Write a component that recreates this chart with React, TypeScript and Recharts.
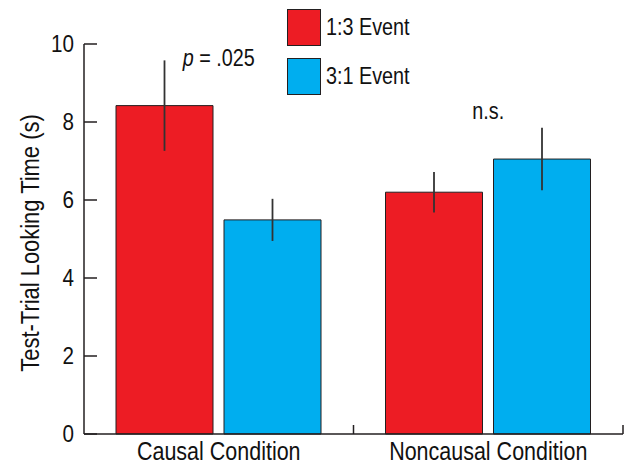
import React from "react";
import {
  BarChart,
  Bar,
  XAxis,
  YAxis,
  ErrorBar,
  Legend,
  ReferenceDot,
  Label,
} from "recharts";

const conditions = ["Causal Condition", "Noncausal Condition"];
const event13 = [8.42, 6.2];
const event13Err = [1.16, 0.52];
const event31 = [5.49, 7.05];
const event31Err = [0.54, 0.8];
const yTicks = [0, 2, 4, 6, 8, 10];
const noteText = ["p = .025", "n.s."];
const noteY = [9.64, 8.26];

const series = [
  { key: "e13", name: "1:3 Event", color: "#ED1C24" },
  { key: "e31", name: "3:1 Event", color: "#00AEEF" },
];

const data = conditions.map((c, i) => ({
  condition: c,
  e13: event13[i],
  e13Err: event13Err[i],
  e31: event31[i],
  e31Err: event31Err[i],
}));

const W = 627;
const H = 465;
const MARGIN = { top: 44, right: 4, bottom: 1, left: 0 };
const Y_W = 84;
const BAND = (W - MARGIN.left - MARGIN.right - Y_W) / conditions.length;
const FONT = '"Liberation Sans", Arial, sans-serif';
const SQUEEZE = 0.86; // the original face is a condensed grotesque
const INK = "#231f20";

// narrow text: normal face squeezed horizontally around its anchor point
const NText = ({ x, y, size, anchor = "middle", rotate = 0, children }: any) => (
  <text
    transform={`translate(${x} ${y}) rotate(${rotate}) scale(${SQUEEZE} 1)`}
    textAnchor={anchor}
    dominantBaseline="central"
    fontFamily={FONT}
    fontSize={size}
    fill="#111"
  >
    {children}
  </text>
);

const YTick = (props: any) => {
  const { x, y, payload } = props;
  return (
    <g>
      <line x1={x + 10} x2={x + 23} y1={y} y2={y} stroke={INK} strokeWidth={1.5} />
      <NText x={x} y={y} size={24} anchor="end">
        {payload.value}
      </NText>
    </g>
  );
};

const XTick = (props: any) => {
  const { x, y, payload } = props;
  return (
    <g>
      <line x1={x + BAND / 2} x2={x + BAND / 2} y1={y} y2={y - 9} stroke={INK} strokeWidth={1.5} />
      <NText x={x} y={y + 17} size={25}>
        {payload.value}
      </NText>
    </g>
  );
};

const LegendBox = () => (
  <div style={{ fontFamily: FONT, fontSize: 23, color: "#111" }}>
    {series.map((s) => (
      <div key={s.key} style={{ display: "flex", alignItems: "center", height: 37, marginBottom: 12 }}>
        <div
          style={{
            width: 32,
            height: 35,
            background: s.color,
            border: `1px solid ${INK}`,
            marginRight: 5,
          }}
        />
        <span
          style={{
            display: "inline-block",
            transform: `scaleX(${SQUEEZE})`,
            transformOrigin: "left center",
            whiteSpace: "nowrap",
          }}
        >
          {s.name}
        </span>
      </div>
    ))}
  </div>
);

const Note = (text: string) => (props: any) => {
  const vb = props.viewBox;
  const italic = text.startsWith("p ");
  return (
    <NText x={vb.x} y={vb.y} size={23}>
      {italic ? (
        <>
          <tspan fontStyle="italic">p</tspan>
          <tspan>{text.slice(1)}</tspan>
        </>
      ) : (
        text
      )}
    </NText>
  );
};

const YLabel = (props: any) => {
  const vb = props.viewBox;
  return (
    <NText x={vb.x + 30} y={vb.y + vb.height / 2 + 4} size={25.5} rotate={-90}>
      Test-Trial Looking Time (s)
    </NText>
  );
};

export default function App() {
  return (
    <div style={{ position: "absolute", left: 0, top: 0, width: W, height: H, background: "#fff" }}>
      <BarChart
        width={W}
        height={H}
        data={data}
        margin={MARGIN}
        barCategoryGap={32}
        barGap={11}
      >
        <XAxis
          dataKey="condition"
          height={30}
          tickSize={0}
          tickMargin={0}
          tick={<XTick />}
          axisLine={{ stroke: INK, strokeWidth: 1.5 }}
          tickLine={false}
          interval={0}
        />
        <YAxis
          width={Y_W}
          domain={[0, 10]}
          ticks={yTicks}
          tickSize={0}
          tickMargin={10}
          tick={<YTick />}
          axisLine={{ stroke: INK, strokeWidth: 1.5 }}
          tickLine={false}
          interval={0}
        >
          <Label content={<YLabel />} />
        </YAxis>
        <Legend
          layout="vertical"
          align="center"
          verticalAlign="middle"
          content={<LegendBox />}
          wrapperStyle={{ position: "absolute", left: 287, top: 9, width: 200 }}
        />
        {series.map((s) => (
          <Bar
            key={s.key}
            dataKey={s.key}
            name={s.name}
            fill={s.color}
            stroke={INK}
            strokeWidth={1}
            isAnimationActive={false}
          >
            <ErrorBar
              dataKey={`${s.key}Err`}
              width={0}
              stroke="#333"
              strokeWidth={1.8}
              direction="y"
            />
          </Bar>
        ))}
        {conditions.map((c, i) => (
          <ReferenceDot
            key={c}
            x={c}
            y={noteY[i]}
            r={0}
            stroke="none"
            fill="none"
            label={Note(noteText[i])}
          />
        ))}
      </BarChart>
    </div>
  );
}
